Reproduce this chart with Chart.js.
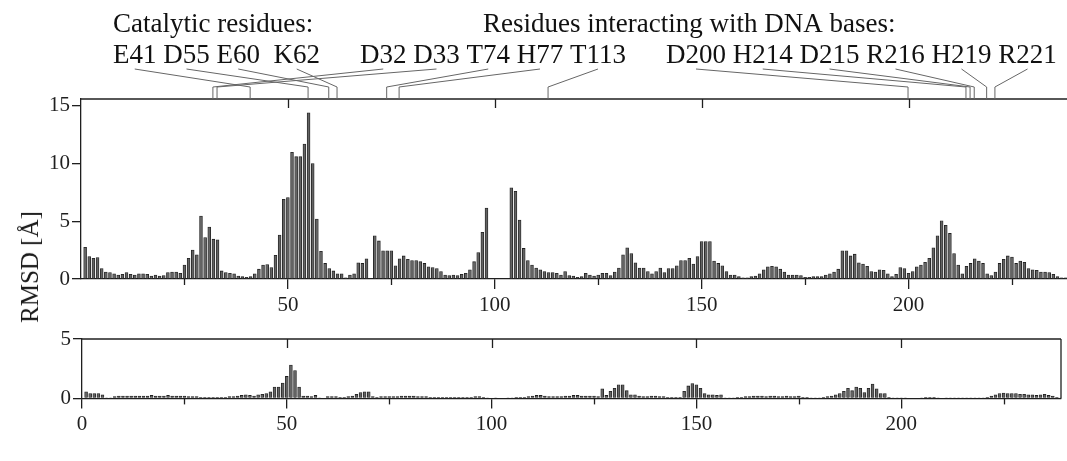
<!DOCTYPE html>
<html lang="en">
<head>
<meta charset="UTF-8">
<title>RMSD per residue</title>
<script src="https://cdn.jsdelivr.net/npm/chart.js"></script>
<style>
  * { margin: 0; padding: 0; box-sizing: border-box; }
  body { width: 1067px; height: 461px; background: #fff; position: relative; overflow: hidden; font-family: 'Liberation Serif', serif; }
  canvas { position: absolute; left: 0; }
  #topChart { top: 0; }
  #bottomChart { top: 320px; }
  .ytitle { position: absolute; left: 30px; top: 267px; transform: translate(-50%, -50%) rotate(-90deg); font-size: 25px; color: #1a1a1a; white-space: nowrap; }
</style>
</head>
<body>
<canvas id="topChart" width="1067" height="320"></canvas>
<canvas id="bottomChart" width="1067" height="141"></canvas>
<div class="ytitle">RMSD [Å]</div>
<script>
// RMSD per residue, upper panel (residues 1..238)
const rmsdTop = [
  2.75,1.95,1.8,1.85,0.9,0.6,0.55,0.45,0.35,0.4,
  0.55,0.4,0.35,0.45,0.45,0.4,0.25,0.35,0.25,0.3,
  0.55,0.6,0.6,0.5,1.2,1.8,2.5,2.1,5.45,3.6,
  4.5,3.45,3.4,0.7,0.55,0.5,0.45,0.25,0.2,0.15,
  0.2,0.45,0.85,1.2,1.25,1.0,2.05,3.8,6.9,7.05,
  10.98,10.6,10.6,11.7,14.4,10.0,5.2,2.4,1.35,0.9,
  0.7,0.45,0.45,0.1,0.35,0.45,1.4,1.35,1.75,0,
  3.75,3.3,2.45,2.45,2.45,1.15,1.75,2.0,1.7,1.6,
  1.6,1.5,1.35,1.05,1.0,0.9,0.65,0.35,0.3,0.35,
  0.3,0.4,0.5,0.8,1.5,2.3,4.05,6.15,0,0,
  0,0,0,7.9,7.6,5.1,2.65,1.6,1.2,0.95,
  0.8,0.65,0.55,0.55,0.5,0.35,0.65,0.3,0.25,0.15,
  0.2,0.5,0.35,0.25,0.35,0.5,0.5,0.3,0.6,0.95,
  2.1,2.7,2.2,1.4,0.95,0.95,0.65,0.45,0.65,0.95,
  0.55,0.9,0.9,1.15,1.6,1.6,1.8,1.3,1.95,3.25,
  3.25,3.25,1.55,1.35,1.15,0.65,0.35,0.35,0.2,0.1,
  0.1,0.2,0.25,0.45,0.8,1.05,1.1,1.05,0.85,0.6,
  0.35,0.35,0.35,0.3,0.15,0.15,0.2,0.2,0.2,0.35,
  0.45,0.6,0.85,2.45,2.45,2.0,2.15,1.4,1.3,1.1,
  0.65,0.6,0.8,0.75,0.45,0.2,0.4,1.0,0.9,0.5,
  0.65,1.05,1.2,1.45,1.8,2.7,3.75,5.05,4.65,3.95,
  2.2,1.2,0.45,1.1,1.35,1.75,1.55,1.35,0.45,0.3,
  0.6,1.35,1.7,2.0,1.9,1.35,1.55,1.45,0.9,0.8,
  0.75,0.6,0.6,0.55,0.4,0.2,0.1,0.1
];

// RMSD per residue, lower panel (residues 1..239)
const rmsdBottom = [
  0.55,0.4,0.4,0.4,0.3,0.05,0.05,0.15,0.2,0.2,
  0.2,0.2,0.2,0.2,0.2,0.2,0.25,0.2,0.2,0.2,
  0.25,0.2,0.2,0.2,0.2,0.15,0.15,0.15,0.1,0.1,
  0.1,0.1,0.1,0.1,0.1,0.15,0.15,0.2,0.25,0.3,
  0.25,0.2,0.3,0.35,0.4,0.55,0.95,0.95,1.3,1.85,
  2.8,2.35,0.95,0.2,0.2,0.15,0.25,0.05,0,0.15,
  0.15,0.15,0.1,0.1,0.15,0.2,0.35,0.5,0.55,0.55,
  0.15,0.1,0.15,0.15,0.15,0.15,0.15,0.2,0.2,0.2,
  0.2,0.15,0.15,0.15,0.1,0.1,0.1,0.1,0.1,0.1,
  0.1,0.1,0.1,0.1,0.1,0.15,0.15,0.1,0.05,0,
  0.05,0,0,0.05,0.05,0.1,0.1,0.1,0.15,0.2,
  0.25,0.25,0.2,0.15,0.15,0.15,0.15,0.2,0.2,0.25,
  0.25,0.2,0.2,0.2,0.2,0.15,0.8,0.25,0.6,0.85,
  1.15,1.15,0.65,0.3,0.3,0.2,0.15,0.15,0.2,0.2,
  0.15,0.15,0.1,0.1,0.1,0.1,0.6,1.05,1.25,1.15,
  0.85,0.4,0.3,0.3,0.25,0.3,0.05,0.05,0.05,0.1,
  0.1,0.15,0.15,0.2,0.2,0.2,0.15,0.2,0.2,0.15,
  0.15,0.2,0.15,0.15,0.2,0.1,0.1,0.05,0.05,0.05,
  0.1,0.15,0.2,0.3,0.4,0.6,0.85,0.65,0.95,0.85,
  0.5,0.85,1.2,0.8,0.4,0.4,0.1,0.05,0.05,0.05,
  0.05,0,0,0,0.05,0.1,0.1,0.1,0.05,0,
  0.05,0.05,0.05,0.05,0.05,0.05,0.05,0.05,0.05,0.05,
  0.1,0.2,0.3,0.4,0.45,0.4,0.4,0.4,0.35,0.35,
  0.3,0.3,0.25,0.3,0.35,0.25,0.2,0.1,0.05
];

const xMajorTicks = [50, 100, 150, 200];
const xMinorTicks = [25, 75, 125, 175, 225];

const catalyticTitle = 'Catalytic residues:';
const dnaTitle = 'Residues interacting with DNA bases:';
const catalyticResidues = ['E41', 'D55', 'E60', 'K62'];
const dnaResidues = ['D32', 'D33', 'T74', 'H77', 'T113', 'D200', 'H214', 'D215', 'R216', 'H219', 'R221'];

const FONT = "'Liberation Serif', 'Times New Roman', serif";
const INK = '#1f1f1f';

function toPoints(arr) {
  return arr.map((v, i) => ({ x: i + 1, y: v }));
}

function line(ctx, x1, y1, x2, y2) {
  ctx.beginPath();
  ctx.moveTo(x1, y1);
  ctx.lineTo(x2, y2);
  ctx.stroke();
}

// frame + extra ticks (top border inward, minor ticks below)
function framePlugin(withRight) {
  return {
    id: 'frame',
    afterDraw(chart) {
      const { ctx, chartArea: a, scales: { x } } = chart;
      ctx.save();
      ctx.strokeStyle = INK;
      ctx.lineWidth = 1.3;
      line(ctx, a.left, a.top, a.right, a.top);
      if (withRight) line(ctx, a.right, a.top, a.right, a.bottom);
      xMajorTicks.forEach(v => {
        const px = Math.round(x.getPixelForValue(v)) + 0.5;
        line(ctx, px, a.top, px, a.top + 9);
      });
      xMinorTicks.forEach(v => {
        const px = Math.round(x.getPixelForValue(v)) + 0.5;
        if (px < a.right) line(ctx, px, a.bottom, px, a.bottom + 6);
      });
      ctx.restore();
    }
  };
}

// residue labels and leader lines above the top panel
const annotations = {
  id: 'annotations',
  afterDraw(chart) {
    const { ctx, chartArea: a, scales: { x } } = chart;
    ctx.save();
    ctx.font = '27px ' + FONT;
    ctx.fillStyle = '#111';
    ctx.textBaseline = 'alphabetic';
    ctx.fillText(catalyticTitle, 113, 32);
    ctx.fillText(dnaTitle, 483, 32);

    const groups = [
      { start: 113, labels: catalyticResidues, text: 'E41 D55 E60  K62' },
      { start: 360, labels: dnaResidues.slice(0, 5), text: dnaResidues.slice(0, 5).join(' ') },
      { start: 666, labels: dnaResidues.slice(5), text: dnaResidues.slice(5).join(' ') }
    ];
    ctx.strokeStyle = '#666';
    ctx.lineWidth = 1;
    groups.forEach(g => {
      ctx.fillText(g.text, g.start, 63);
      g.labels.forEach(lab => {
        const idx = g.text.indexOf(lab);
        const lx = g.start + ctx.measureText(g.text.slice(0, idx)).width;
        const cx = lx + ctx.measureText(lab).width / 2;
        const rx = x.getPixelForValue(parseInt(lab.slice(1), 10)) - 0.5;
        ctx.beginPath();
        ctx.moveTo(cx, 69);
        ctx.lineTo(rx, 87);
        ctx.lineTo(rx, a.top);
        ctx.stroke();
      });
    });
    ctx.restore();
  }
};

function barDataset(values) {
  return {
    data: toPoints(values),
    backgroundColor: '#646464',
    borderColor: '#1e1e1e',
    borderWidth: 0.8,
    borderSkipped: 'bottom',
    barThickness: 2.9
  };
}

function xScale(max, hideZero, labelPad, axisHeight) {
  return {
    type: 'linear',
    min: 0,
    max: max,
    offset: false,
    ticks: {
      stepSize: 50,
      includeBounds: false,
      autoSkip: false,
      maxRotation: 0,
      padding: labelPad,
      color: INK,
      font: { family: FONT, size: 21 }
    },
    afterBuildTicks(scale) {
      if (hideZero) scale.ticks = scale.ticks.filter(t => t.value > 0);
    },
    afterFit(scale) { scale.height = axisHeight; },
    grid: { display: true, offset: false, drawOnChartArea: false, drawTicks: true, tickLength: 10, color: INK, lineWidth: 1.3 },
    border: { display: true, color: INK, width: 1.3 }
  };
}

function yScale(max, width) {
  return {
    min: 0,
    max: max,
    ticks: {
      stepSize: 5,
      includeBounds: false,
      padding: 2,
      color: INK,
      font: { family: FONT, size: 21 }
    },
    afterFit(scale) { scale.width = width; },
    grid: { display: true, drawOnChartArea: false, drawTicks: true, tickLength: 9, color: INK, lineWidth: 1.3 },
    border: { display: true, color: INK, width: 1.3 }
  };
}

const common = {
  responsive: false,
  animation: false,
  devicePixelRatio: 1,
  plugins: { legend: { display: false }, tooltip: { enabled: false } }
};

new Chart(document.getElementById('topChart'), {
  type: 'bar',
  data: { datasets: [barDataset(rmsdTop)] },
  options: Object.assign({}, common, {
    layout: { padding: { top: 99, left: 0, right: 0, bottom: 0 } },
    scales: { x: xScale(238.3, true, 4, 41), y: yScale(15.6, 81) }
  }),
  plugins: [framePlugin(false), annotations]
});

new Chart(document.getElementById('bottomChart'), {
  type: 'bar',
  data: { datasets: [barDataset(rmsdBottom)] },
  options: Object.assign({}, common, {
    layout: { padding: { top: 19, left: 0, right: 6, bottom: 0 } },
    scales: { x: xScale(239, false, 3, 62.6), y: yScale(5, 82) }
  }),
  plugins: [framePlugin(true)]
});
</script>
</body>
</html>
